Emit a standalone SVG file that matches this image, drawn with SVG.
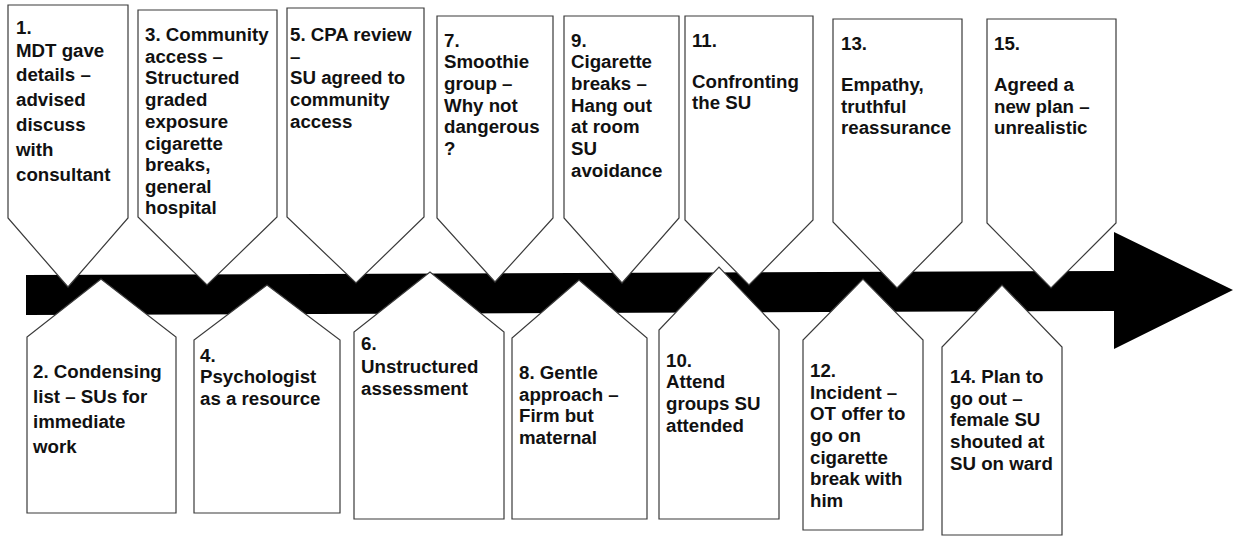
<svg xmlns="http://www.w3.org/2000/svg" width="1243" height="536" viewBox="0 0 1243 536">
  <style>
    .box { fill: #ffffff; stroke: #3a3a3a; stroke-width: 1.2; stroke-linejoin: miter; }
    .lbl { font-family: "Liberation Sans", Arial, sans-serif; font-weight: bold; font-size: 18.7px; fill: #111111; }
  </style>
  <rect width="1243" height="536" fill="#ffffff"/>

  <!-- timeline arrow -->
  <g id="connectors">
    <polygon points="26,275 1114,271 1114,232 1233,290 1114,349 1114,311 26,315" fill="#000000"/>
  </g>

  <!-- events above the timeline -->
  <g id="event-1">
    <polygon class="box" points="8,5 128,5 128,218 68,287 8,218"/>
    <text class="lbl"><tspan x="16" y="34">1.</tspan><tspan x="16" y="57">MDT gave</tspan><tspan x="16" y="81">details –</tspan><tspan x="16" y="106">advised</tspan><tspan x="16" y="131">discuss</tspan><tspan x="16" y="156">with</tspan><tspan x="16" y="181">consultant</tspan></text>
  </g>
  <g id="event-3">
    <polygon class="box" points="138,10 277,10 277,217 207,285 138,217"/>
    <text class="lbl"><tspan x="145" y="41">3. Community</tspan><tspan x="145" y="63">access –</tspan><tspan x="145" y="84">Structured</tspan><tspan x="145" y="106">graded</tspan><tspan x="145" y="128">exposure</tspan><tspan x="145" y="150">cigarette</tspan><tspan x="145" y="171">breaks,</tspan><tspan x="145" y="193">general</tspan><tspan x="145" y="214">hospital</tspan></text>
  </g>
  <g id="event-5">
    <polygon class="box" points="287,8 424,8 424,217 356,283 287,217"/>
    <text class="lbl"><tspan x="290" y="41">5. CPA review</tspan><tspan x="290" y="63">–</tspan><tspan x="290" y="84">SU agreed to</tspan><tspan x="290" y="106">community</tspan><tspan x="290" y="128">access</tspan></text>
  </g>
  <g id="event-7">
    <polygon class="box" points="437,16 553,16 553,218 495,282 437,218"/>
    <text class="lbl"><tspan x="444" y="47">7.</tspan><tspan x="444" y="68">Smoothie</tspan><tspan x="444" y="90">group –</tspan><tspan x="444" y="112">Why not</tspan><tspan x="444" y="133">dangerous</tspan><tspan x="444" y="155">?</tspan></text>
  </g>
  <g id="event-9">
    <polygon class="box" points="564,16 679,16 679,218 622,283 564,218"/>
    <text class="lbl"><tspan x="571" y="47">9.</tspan><tspan x="571" y="68">Cigarette</tspan><tspan x="571" y="90">breaks –</tspan><tspan x="571" y="112">Hang out</tspan><tspan x="571" y="133">at room</tspan><tspan x="571" y="155">SU</tspan><tspan x="571" y="177">avoidance</tspan></text>
  </g>
  <g id="event-11">
    <polygon class="box" points="685,16 813,16 813,220 749,285 685,220"/>
    <text class="lbl"><tspan x="692" y="47">11.</tspan><tspan x="692" y="88">Confronting</tspan><tspan x="692" y="109">the SU</tspan></text>
  </g>
  <g id="event-13">
    <polygon class="box" points="833,19 962,19 962,222 897,288 833,222"/>
    <text class="lbl"><tspan x="841" y="50">13.</tspan><tspan x="841" y="91">Empathy,</tspan><tspan x="841" y="113">truthful</tspan><tspan x="841" y="134">reassurance</tspan></text>
  </g>
  <g id="event-15">
    <polygon class="box" points="987,19 1116,19 1116,223 1051,288 987,223"/>
    <text class="lbl"><tspan x="994" y="50">15.</tspan><tspan x="994" y="91">Agreed a</tspan><tspan x="994" y="113">new plan –</tspan><tspan x="994" y="134">unrealistic</tspan></text>
  </g>

  <!-- events below the timeline -->
  <g id="event-2">
    <polygon class="box" points="27,513 27,337 101,279 176,337 176,513"/>
    <text class="lbl"><tspan x="33" y="378">2. Condensing</tspan><tspan x="33" y="403">list – SUs for</tspan><tspan x="33" y="428">immediate</tspan><tspan x="33" y="453">work</tspan></text>
  </g>
  <g id="event-4">
    <polygon class="box" points="194,513 194,340 267,285 340,340 340,513"/>
    <text class="lbl"><tspan x="200" y="362">4.</tspan><tspan x="200" y="383">Psychologist</tspan><tspan x="200" y="405">as a resource</tspan></text>
  </g>
  <g id="event-6">
    <polygon class="box" points="354,519 354,332 430,272 504,332 504,519"/>
    <text class="lbl"><tspan x="361" y="350">6.</tspan><tspan x="361" y="373">Unstructured</tspan><tspan x="361" y="395">assessment</tspan></text>
  </g>
  <g id="event-8">
    <polygon class="box" points="512,519 512,338 579,280 647,338 647,519"/>
    <text class="lbl"><tspan x="519" y="379">8. Gentle</tspan><tspan x="519" y="401">approach –</tspan><tspan x="519" y="422">Firm but</tspan><tspan x="519" y="444">maternal</tspan></text>
  </g>
  <g id="event-10">
    <polygon class="box" points="659,519 659,330 719,267 779,330 779,519"/>
    <text class="lbl"><tspan x="666" y="367">10.</tspan><tspan x="666" y="388">Attend</tspan><tspan x="666" y="410">groups SU</tspan><tspan x="666" y="432">attended</tspan></text>
  </g>
  <g id="event-12">
    <polygon class="box" points="803,530 803,340 863,279 923,340 923,530"/>
    <text class="lbl"><tspan x="810" y="377">12.</tspan><tspan x="810" y="399">Incident –</tspan><tspan x="810" y="420">OT offer to</tspan><tspan x="810" y="442">go on</tspan><tspan x="810" y="464">cigarette</tspan><tspan x="810" y="485">break with</tspan><tspan x="810" y="507">him</tspan></text>
  </g>
  <g id="event-14">
    <polygon class="box" points="942,535 942,347 1002,285 1062,347 1062,535"/>
    <text class="lbl"><tspan x="950" y="383">14. Plan to</tspan><tspan x="950" y="405">go out –</tspan><tspan x="950" y="426">female SU</tspan><tspan x="950" y="448">shouted at</tspan><tspan x="950" y="470">SU on ward</tspan></text>
  </g>
</svg>
